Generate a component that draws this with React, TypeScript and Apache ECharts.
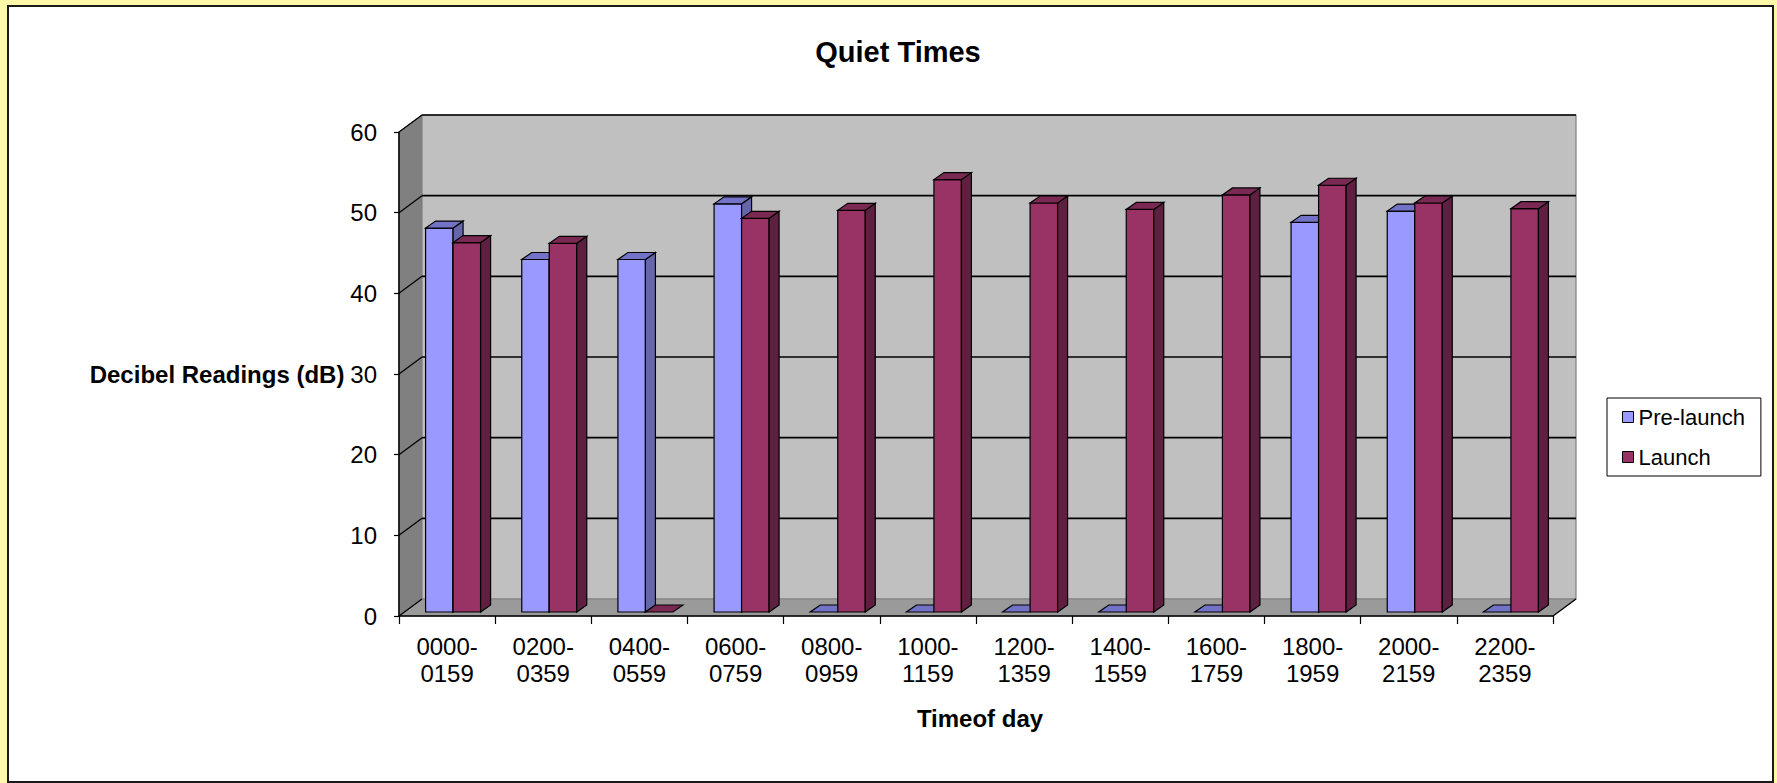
import React, { useEffect, useRef } from "react";
import * as echarts from "echarts";

const categories = [
  "0000-\n0159", "0200-\n0359", "0400-\n0559", "0600-\n0759",
  "0800-\n0959", "1000-\n1159", "1200-\n1359", "1400-\n1559",
  "1600-\n1759", "1800-\n1959", "2000-\n2159", "2200-\n2359",
];
const preLaunch = [47.6, 43.7, 43.7, 50.6, 0, 0, 0, 0, 0, 48.3, 49.7, 0];
const launch = [45.8, 45.7, 0, 48.8, 49.8, 53.6, 50.7, 49.9, 51.7, 52.9, 50.7, 50.0];
const yTicks = [0, 10, 20, 30, 40, 50, 60];
const seriesNames = ["Pre-launch", "Launch"];

const FONT = "'Liberation Sans', Arial, sans-serif";
// wall depth vector
const WDX = 23, WDY = -17;
// bar plane offset and bar depth
const BOX = 6, BOY = -4, BDX = 10, BDY = -7;

const faceColors = [
  { front: "#9999FF", top: "#7272C6", side: "#6666AA" },
  { front: "#993366", top: "#7A2952", side: "#5E1F40" },
];

function makeBarRender(s: number) {
  return (params: any, api: any) => {
    const i = api.value(0);
    const v = api.value(1);
    const c = api.coord([i, 0]);
    const t = api.coord([i, v]);
    const bw = api.size([1, 0])[0];
    const w = bw * 0.286;
    const x0 = c[0] + BOX + (s === 0 ? -w : 0);
    const x1 = x0 + w;
    const yb = c[1] + BOY;
    const yt = t[1] + BOY;
    const col = faceColors[s];
    const stroke = { stroke: "#000", lineWidth: 1.2 };
    const children: any[] = [];
    if (yb - yt > 0.5) {
      children.push({
        type: "rect",
        shape: { x: x0, y: yt, width: w, height: yb - yt },
        style: { fill: col.front, ...stroke },
      });
      children.push({
        type: "polygon",
        shape: { points: [[x1, yt], [x1 + BDX, yt + BDY], [x1 + BDX, yb + BDY], [x1, yb]] },
        style: { fill: col.side, ...stroke },
      });
    }
    children.push({
      type: "polygon",
      shape: { points: [[x0, yt], [x1, yt], [x1 + BDX, yt + BDY], [x0 + BDX, yt + BDY]] },
      style: { fill: col.top, ...stroke },
    });
    return { type: "group", children };
  };
}

function wallsRender(params: any, api: any) {
  const cs = params.coordSys;
  const x0 = cs.x, y0 = cs.y, w = cs.width, h = cs.height;
  const yB = y0 + h;
  const children: any[] = [];
  // left wall
  children.push({
    type: "polygon",
    shape: { points: [[x0, yB], [x0, y0], [x0 + WDX, y0 + WDY], [x0 + WDX, yB + WDY]] },
    style: { fill: "#808080", stroke: "#707070", lineWidth: 1 },
  });
  // back wall
  children.push({
    type: "rect",
    shape: { x: x0 + WDX, y: y0 + WDY, width: w, height: h },
    style: { fill: "#C0C0C0", stroke: "#808080", lineWidth: 1.2 },
  });
  // floor
  children.push({
    type: "polygon",
    shape: { points: [[x0, yB], [x0 + w, yB], [x0 + w + WDX, yB + WDY], [x0 + WDX, yB + WDY]] },
    style: { fill: "#9A9A9A", stroke: "#808080", lineWidth: 1 },
  });
  children.push({
    type: "line",
    shape: { x1: x0 + w, y1: yB, x2: x0 + w + WDX, y2: yB + WDY },
    style: { stroke: "#000", lineWidth: 1.3 },
  });
  yTicks.forEach((t) => {
    const y = api.coord([0, t])[1];
    if (t > 0) {
      children.push({
        type: "line",
        shape: { x1: x0 + WDX, y1: y + WDY, x2: x0 + w + WDX, y2: y + WDY },
        style: { stroke: "#000", lineWidth: 1.6 },
      });
    }
    children.push({
      type: "line",
      shape: { x1: x0, y1: y, x2: x0 + WDX, y2: y + WDY },
      style: { stroke: "#000", lineWidth: 1.3 },
    });
  });
  return { type: "group", children };
}

export default function App() {
  const ref = useRef<HTMLDivElement>(null);
  useEffect(() => {
    document.body.style.margin = "0";
    document.body.style.overflow = "hidden";
    if (!ref.current) return;
    const chart = echarts.init(ref.current, undefined, { renderer: "svg" });
    const option: any = {
      animation: false,
      backgroundColor: "#FFF8A8",
      textStyle: { fontFamily: FONT },
      graphic: [
        {
          type: "rect",
          z: -10,
          shape: { x: 8, y: 6, width: 1765, height: 776 },
          style: { fill: "#FFFFFF", stroke: "#1A1A1A", lineWidth: 2 },
        },
      ],
      title: {
        text: "Quiet Times",
        left: 893,
        top: 32,
        textAlign: "center",
        textStyle: { fontFamily: FONT, fontSize: 29, fontWeight: "bold", color: "#000" },
      },
      legend: {
        data: seriesNames,
        orient: "vertical",
        left: 1607,
        top: 398,
        padding: [8, 16, 8, 15],
        backgroundColor: "#fff",
        borderColor: "#000",
        borderWidth: 1,
        itemWidth: 11,
        itemHeight: 11,
        itemGap: 18,
        icon: "rect",
        itemStyle: { borderColor: "#000", borderWidth: 1 },
        textStyle: { fontFamily: FONT, fontSize: 22, color: "#000" },
      },
      grid: { left: 399, top: 132, width: 1154, height: 484 },
      xAxis: {
        type: "category",
        data: categories,
        z: 5,
        name: "Timeof day",
        nameLocation: "middle",
        nameGap: 90,
        nameTextStyle: { fontFamily: FONT, fontSize: 24, fontWeight: "bold", color: "#000", padding: [0, 0, 0, 8] },
        axisLine: { lineStyle: { color: "#000", width: 1.5 } },
        axisTick: { show: true, length: 8, lineStyle: { color: "#000", width: 1.2 } },
        axisLabel: {
          interval: 0,
          margin: 17,
          fontFamily: FONT,
          fontSize: 24,
          lineHeight: 27,
          color: "#000",
        },
        splitLine: { show: false },
      },
      yAxis: {
        type: "value",
        min: 0,
        max: 60,
        interval: 10,
        z: 5,
        name: "Decibel Readings (dB)",
        nameLocation: "middle",
        nameRotate: 0,
        nameGap: 50,
        nameTextStyle: { fontFamily: FONT, fontSize: 24, fontWeight: "bold", color: "#000" },
        axisLine: { show: true, lineStyle: { color: "#000", width: 1.5 } },
        axisTick: { show: true, length: 5, lineStyle: { color: "#000", width: 1.2 } },
        axisLabel: { margin: 22, fontFamily: FONT, fontSize: 24, color: "#000" },
        splitLine: { show: false },
      },
      series: [
        {
          type: "custom",
          name: "walls",
          silent: true,
          z: 1,
          clip: false,
          renderItem: wallsRender,
          data: [[0, 0]],
        },
        {
          type: "custom",
          name: seriesNames[0],
          z: 2,
          clip: false,
          itemStyle: { color: faceColors[0].front },
          renderItem: makeBarRender(0),
          data: preLaunch.map((v, i) => [i, v]),
        },
        {
          type: "custom",
          name: seriesNames[1],
          z: 3,
          clip: false,
          itemStyle: { color: faceColors[1].front },
          renderItem: makeBarRender(1),
          data: launch.map((v, i) => [i, v]),
        },
      ],
    };
    chart.setOption(option);
    return () => chart.dispose();
  }, []);
  return <div ref={ref} style={{ width: 1777, height: 783 }} />;
}
